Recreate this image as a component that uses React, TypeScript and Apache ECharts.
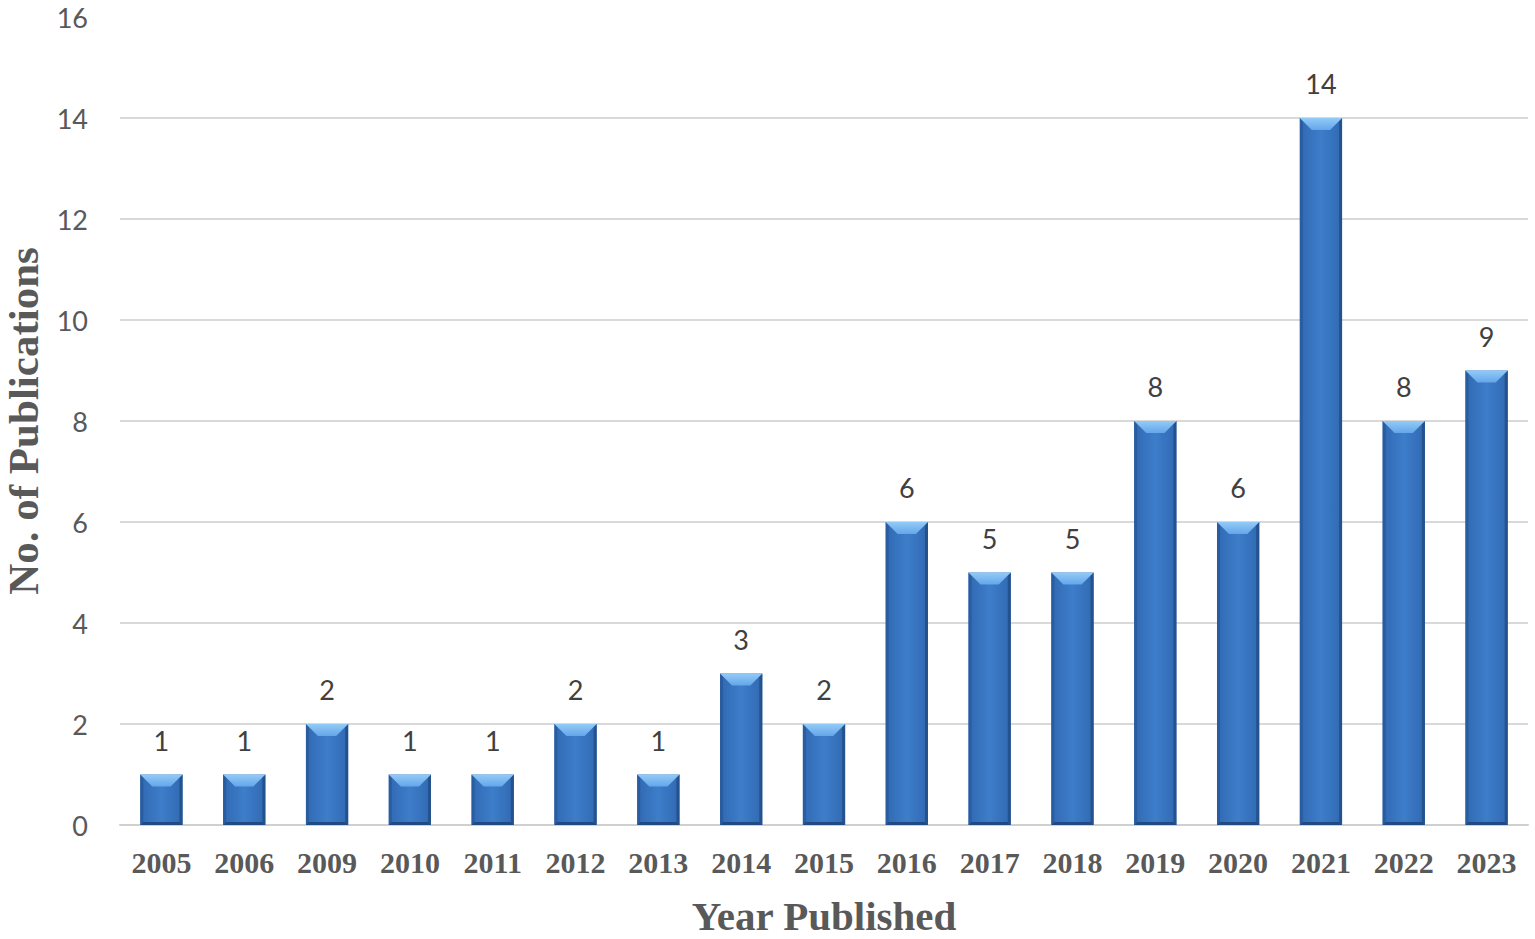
import React, { useEffect, useRef } from "react";
import * as echarts from "echarts";

const years = ["2005", "2006", "2009", "2010", "2011", "2012", "2013", "2014", "2015", "2016", "2017", "2018", "2019", "2020", "2021", "2022", "2023"];
const publications = [1, 1, 2, 1, 1, 2, 1, 3, 2, 6, 5, 5, 8, 6, 14, 8, 9];
const yTicks = { min: 0, max: 16, interval: 2 };

const BAR_RATIO = 0.51;

export default function App() {
  const ref = useRef<HTMLDivElement>(null);
  useEffect(() => {
    const chart = echarts.init(ref.current!, null, { renderer: "svg" });
    const gridColors = ["#d9d9d9", "#d9d9d9", "#d9d9d9", "#d9d9d9", "#d9d9d9", "#d9d9d9", "#d9d9d9", "#d9d9d9", "rgba(0,0,0,0)"];
    chart.setOption({
      animation: false,
      backgroundColor: "#ffffff",
      grid: { left: 120, right: 7, top: 17, bottom: 114, containLabel: false, outerBoundsMode: "none" },
      xAxis: {
        type: "category",
        data: years,
        name: "Year Published",
        nameLocation: "middle",
        nameGap: 72,
        nameTextStyle: { fontFamily: "Liberation Serif", fontWeight: "bold", fontSize: 41, lineHeight: 38, color: "#595959" },
        axisLine: { show: true, lineStyle: { color: "#d0d0d0", width: 2 } },
        axisTick: { show: false },
        axisLabel: { fontFamily: "Liberation Serif", fontWeight: "bold", fontSize: 30, color: "#595959", margin: 22 },
      },
      yAxis: {
        type: "value",
        min: yTicks.min,
        max: yTicks.max,
        interval: yTicks.interval,
        name: "No. of Publications",
        nameLocation: "middle",
        nameRotate: 90,
        nameGap: 77,
        nameTextStyle: { fontFamily: "Liberation Serif", fontWeight: "bold", fontSize: 43, lineHeight: 40, color: "#595959" },
        axisLine: { show: false },
        axisTick: { show: false },
        axisLabel: { fontFamily: "Lato", fontSize: 27, color: "#595959", margin: 32 },
        splitLine: { show: true, lineStyle: { color: gridColors, width: 2 } },
      },
      series: [
        {
          type: "custom",
          data: publications.map((v, i) => [i, v]),
          encode: { x: 0, y: 1 },
          z: 3,
          renderItem: (params: any, api: any) => {
            const idx = api.value(0);
            const v = api.value(1);
            const top = api.coord([idx, v]);
            const base = api.coord([idx, 0]);
            const bw = api.size([1, 0])[0] * BAR_RATIO;
            const x = top[0] - bw / 2;
            const y = top[1];
            const h = base[1] - top[1];
            const t = 12;
            const s = 3;
            return {
              type: "group",
              children: [
                {
                  type: "rect",
                  shape: { x, y, width: bw, height: h },
                  style: {
                    fill: new echarts.graphic.LinearGradient(0, 0, 1, 0, [
                      { offset: 0, color: "#3169b2" },
                      { offset: 0.5, color: "#3d7dca" },
                      { offset: 1, color: "#3169b2" },
                    ]),
                  },
                },
                {
                  type: "polygon",
                  shape: { points: [[x, y], [x + s, y + s], [x + s, y + h - s], [x, y + h]] },
                  style: { fill: "#2a5d9f" },
                },
                {
                  type: "polygon",
                  shape: { points: [[x + bw, y], [x + bw - s, y + s], [x + bw - s, y + h - s], [x + bw, y + h]] },
                  style: { fill: "#24528d" },
                },
                {
                  type: "polygon",
                  shape: { points: [[x, y + h], [x + s, y + h - s], [x + bw - s, y + h - s], [x + bw, y + h]] },
                  style: { fill: "#1f4a82" },
                },
                {
                  type: "polygon",
                  shape: { points: [[x, y], [x + bw, y], [x + bw - t, y + t], [x + t, y + t]] },
                  style: {
                    fill: new echarts.graphic.LinearGradient(0, 0, 0, 1, [
                      { offset: 0, color: "#93cbf7" },
                      { offset: 1, color: "#64a6ea" },
                    ]),
                  },
                },
              ],
            };
          },
        },
        {
          type: "bar",
          data: publications,
          barWidth: "51%",
          itemStyle: { color: "rgba(0,0,0,0)" },
          z: 4,
          label: {
            show: true,
            position: "top",
            distance: 21,
            fontFamily: "Lato",
            fontSize: 27,
            color: "#404040",
          },
        },
      ],
    });
    return () => chart.dispose();
  }, []);
  return <div ref={ref} style={{ position: "absolute", left: 0, top: 0, width: 1535, height: 939 }} />;
}
